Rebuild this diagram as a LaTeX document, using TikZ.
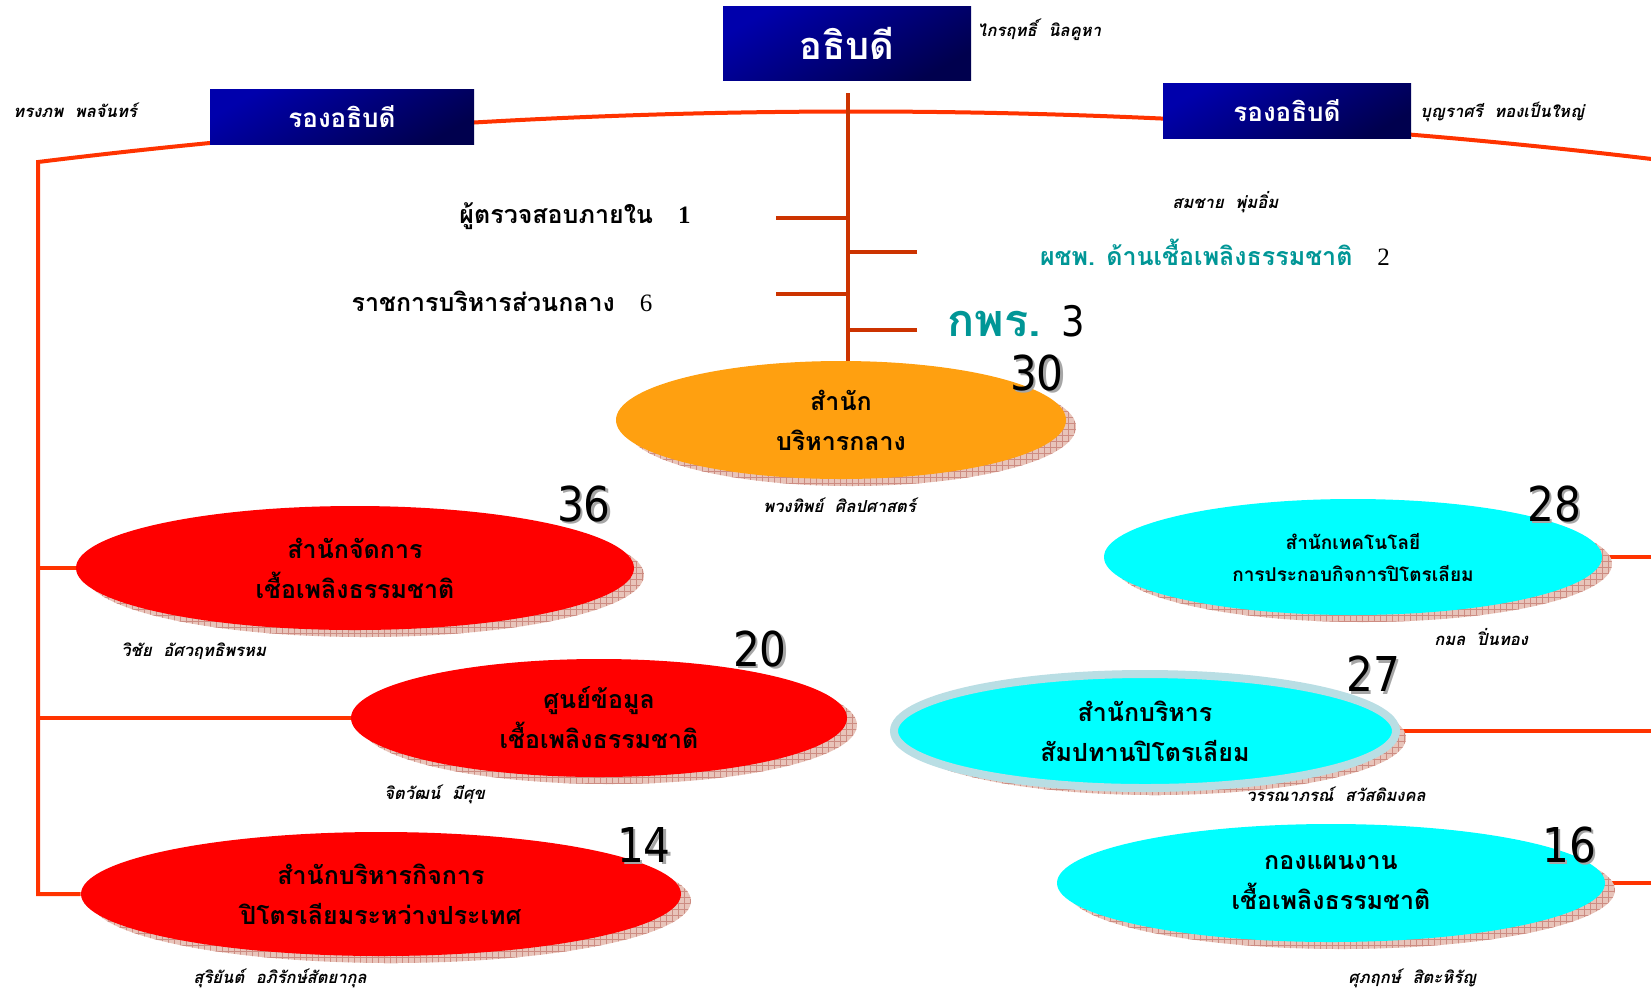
\documentclass[tikz,border=0pt]{standalone}
\usepackage{fontspec}
\setmainfont[Script=Thai]{Loma}
\newfontfamily\numfont[FakeStretch=0.88]{DejaVu Sans}
\newfontfamily\serifnum{Liberation Serif}
\usetikzlibrary{shapes.geometric,shadows,backgrounds,patterns}
\definecolor{arcred}{RGB}{255,51,0}
\definecolor{stemred}{RGB}{204,51,0}
\definecolor{navyA}{RGB}{0,0,172}
\definecolor{navyB}{RGB}{0,0,78}
\definecolor{unitteal}{RGB}{0,150,150}
\definecolor{orangefill}{RGB}{255,160,16}
\definecolor{cyanfill}{RGB}{0,255,255}
\definecolor{shadowpink}{RGB}{232,196,186}
\definecolor{gridpink}{RGB}{205,140,130}
\definecolor{ringblue}{RGB}{185,222,228}
\newcommand\shadednum[1]{\rlap{\kern1.2pt\raisebox{-1.2pt}{\color{black!35}#1}}#1}
\tikzset{
    headbox/.style={top color=navyA, bottom color=navyB, shading angle=30, text=white,
        font=\bfseries, inner sep=0pt},
    office/.style={ellipse, inner sep=0pt, align=center,
        font=\bfseries\fontsize{12.5}{20}\selectfont,
        general shadow={fill=shadowpink, shadow xshift=5pt, shadow yshift=-3.5pt},
        general shadow={pattern=grid, pattern color=gridpink, shadow xshift=5pt, shadow yshift=-3.5pt}},
    person/.style={font=\bfseries\itshape\fontsize{8.3}{9}\selectfont, inner sep=0pt, anchor=west},
    numlabel/.style={font=\numfont\fontsize{24}{24}\selectfont, inner sep=0pt},
    link/.style={draw=arcred, line width=2pt},
    stem/.style={draw=stemred, line width=2pt},
}
\begin{document}
\begin{tikzpicture}[x=0.5pt,y=-0.5pt]
    \useasboundingbox (0,0) rectangle (1651,993);
    %% heads
    \node[headbox, minimum width=124pt, minimum height=37pt, font=\bfseries\fontsize{19}{20}\selectfont] (director) at (847,43) {อธิบดี};
    \node[headbox, minimum width=132pt, minimum height=27.5pt, font=\bfseries\fontsize{13}{14}\selectfont] (vpleft) at (342,117) {รองอธิบดี};
    \node[headbox, minimum width=124pt, minimum height=27.5pt, font=\bfseries\fontsize{13}{14}\selectfont] (vpright) at (1287,111) {รองอธิบดี};
    %% units on the stem
    \node[font=\bfseries\fontsize{12.5}{14}\selectfont] (audit) at (575,216) {ผู้ตรวจสอบภายใน\quad{\serifnum\bfseries 1}};
    \node[font=\bfseries\fontsize{12.5}{14}\selectfont] (general) at (502,301) {ราชการบริหารส่วนกลาง\quad{\serifnum\mdseries 6}};
    \node[font=\bfseries\fontsize{12.5}{14}\selectfont] (advisor) at (1215,252) {\textcolor{unitteal}{ผชพ. ด้านเชื้อเพลิงธรรมชาติ}\quad{\serifnum\mdseries 2}};
    \node (opdc) at (1016,321) {{\color{unitteal}\bfseries\fontsize{22.5}{24}\selectfont กพร.}\quad{\numfont\fontsize{21}{22}\selectfont 3}};
    %% offices
    \node[office, fill=orangefill, minimum width=225pt, minimum height=59pt] (central) at (841,420) {สำนัก\\บริหารกลาง};
    \node[office, fill=red, minimum width=279pt, minimum height=62pt] (fuelmgmt) at (355,568) {สำนักจัดการ\\เชื้อเพลิงธรรมชาติ};
    \node[office, fill=red, minimum width=248pt, minimum height=59pt] (datacenter) at (599,718) {ศูนย์ข้อมูล\\เชื้อเพลิงธรรมชาติ};
    \node[office, fill=red, minimum width=300pt, minimum height=62pt] (intl) at (381,894) {สำนักบริหารกิจการ\\ปิโตรเลียมระหว่างประเทศ};
    \node[office, fill=cyanfill, minimum width=249pt, minimum height=58pt, font=\bfseries\fontsize{9.5}{16}\selectfont] (techno) at (1353,557) {สำนักเทคโนโลยี\\การประกอบกิจการปิโตรเลียม};
    \node[office, fill=cyanfill, draw=ringblue, line width=4pt, minimum width=251pt, minimum height=57pt] (concession) at (1145,731) {สำนักบริหาร\\สัมปทานปิโตรเลียม};
    \node[office, fill=cyanfill, minimum width=274pt, minimum height=59pt] (planning) at (1331,883) {กองแผนงาน\\เชื้อเพลิงธรรมชาติ};
    %% staff sizes
    \foreach \n/\x/\y in {30/1037/374, 36/584/505, 20/760/650, 14/644/846, 28/1554/505, 27/1373/675, 16/1569/846}
        \node[numlabel] (num\n) at (\x,\y) {\shadednum{\n}};
    %% names
    \foreach \i/\x/\y/\t in {director/977/30/ไกรฤทธิ์\hspace{0.7em}นิลคูหา,
            vpleft/13/110/ทรงภพ\hspace{0.7em}พลจันทร์,
            vpright/1420/112/บุญราศรี\hspace{0.7em}ทองเป็นใหญ่,
            advisor/1172/202/สมชาย\hspace{0.7em}พุ่มอิ่ม,
            central/763/505/พวงทิพย์\hspace{0.7em}ศิลปศาสตร์,
            fuelmgmt/121/651/วิชัย\hspace{0.7em}อัศวฤทธิพรหม,
            datacenter/384/794/จิตวัฒน์\hspace{0.7em}มีศุข,
            intl/193/978/สุริยันต์\hspace{0.7em}อภิรักษ์สัตยากุล,
            techno/1434/637/กมล\hspace{0.7em}ปิ่นทอง,
            concession/1246/794/วรรณาภรณ์\hspace{0.7em}สวัสดิมงคล,
            planning/1348/978/ศุภฤกษ์\hspace{0.7em}สิตะหิรัญ}
        \node[person] (name\i) at (\x,\y) {\t};
    %% connectors
    \coordinate (arcL) at (38,162);
    \coordinate (arcR) at (1660,160);
    \coordinate (rightedge) at (1660,0);
    \coordinate (stemtop) at (848,93);
    \coordinate (auditend) at (776,218);
    \coordinate (generalend) at (776,294);
    \coordinate (advisorend) at (917,252);
    \coordinate (opdcend) at (917,330);
    \begin{scope}[on background layer]
        \draw[link] (arcR) .. controls (1120,95) and (580,95) .. (arcL) -- (arcL |- intl.west) -- (intl.west);
        \foreach \o in {fuelmgmt,datacenter}
            \draw[link] (arcL |- \o.west) -- (\o.west);
        \foreach \o in {techno,concession,planning}
            \draw[link] (\o.east) -- (\o.east -| rightedge);
        \draw[stem] (stemtop) -- (stemtop |- central.north);
        \foreach \c in {auditend,generalend,advisorend,opdcend}
            \draw[stem] (\c) -- (\c -| stemtop);
    \end{scope}
\end{tikzpicture}
\end{document}
